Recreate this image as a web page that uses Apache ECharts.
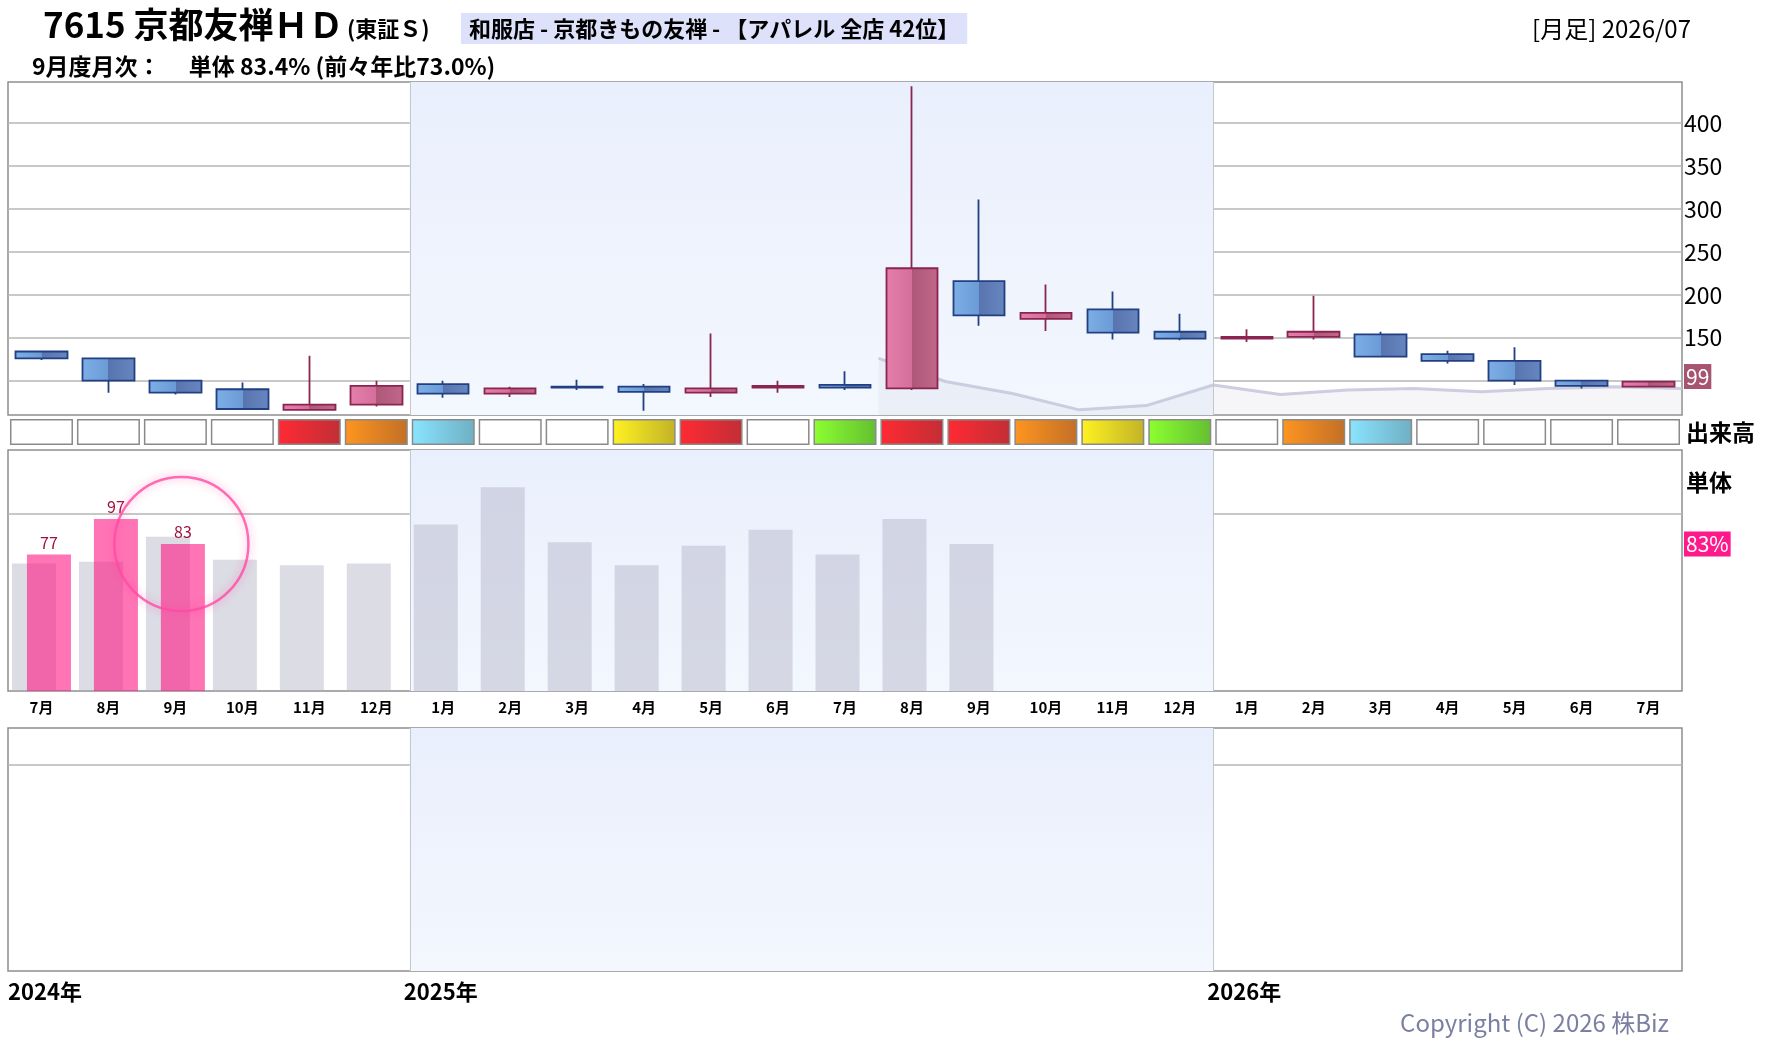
<!DOCTYPE html>
<html lang="ja">
<head>
<meta charset="utf-8">
<title>7615 京都友禅ＨＤ 月足</title>
<script src="https://cdn.jsdelivr.net/npm/echarts@6/dist/echarts.min.js"></script>
<style>
  html, body { margin: 0; padding: 0; background: #fff; }
  #chart { width: 1780px; height: 1054px; }
</style>
</head>
<body>
<div id="chart"></div>
<script>
// 月足チャート（株価・出来高ランク・月次）

// 月（2024/07〜2026/07）
const months = [
  '2024-07', '2024-08', '2024-09', '2024-10', '2024-11', '2024-12',
  '2025-01', '2025-02', '2025-03', '2025-04', '2025-05', '2025-06',
  '2025-07', '2025-08', '2025-09', '2025-10', '2025-11', '2025-12',
  '2026-01', '2026-02', '2026-03', '2026-04', '2026-05', '2026-06', '2026-07'
];
const monthLabels = [
  '7月', '8月', '9月', '10月', '11月', '12月',
  '1月', '2月', '3月', '4月', '5月', '6月', '7月', '8月', '9月', '10月', '11月', '12月',
  '1月', '2月', '3月', '4月', '5月', '6月', '7月'
];
const yearLabels = ['2024年', '2025年', '2026年'];
const yearStarts = [0, 6, 18];

// 株価（始値・終値・安値・高値）
const open  = [134, 126, 100, 90, 66, 72, 96, 85, 93, 93, 86, 92, 95, 91, 216, 172, 183, 157, 149, 151, 154, 131, 123, 100, 93];
const close = [126, 100, 86, 67, 72, 94, 85, 91, 92, 87, 91, 94, 92, 231, 176, 179, 156, 149, 151, 157, 128, 123, 100, 94, 99];
const low   = [124, 86, 84, 66, 65, 70, 80, 81, 89, 65, 81, 86, 89, 89, 164, 158, 148, 147, 145, 148, 128, 120, 95, 91, 93];
const high  = [134, 126, 101, 98, 129, 100, 100, 93, 101, 96, 155, 100, 111, 443, 311, 212, 204, 178, 160, 199, 157, 135, 139, 100, 99];

// 参考ライン（2025/08 月初から）
const trendStart = 13;
const trendValues = [126, 99, 85, 66, 71, 95, 84, 89, 91, 87, 91, 93, 91];

// 出来高ランク  w:なし r:赤 o:橙 b:水色 y:黄 g:緑
const volumeRank = [
  'w', 'w', 'w', 'w', 'r', 'o', 'b', 'w', 'w', 'y', 'r', 'w', 'g',
  'r', 'r', 'o', 'y', 'g', 'w', 'o', 'b', 'w', 'w', 'w', 'w'
];

// 月次 単体（%）
const salesBase = [72, 73, 87, 74, 71, 72, 94, 115, 84, 71, 82, 91, 77, 97, 83];
const salesLatest = [77, 97, 83];

const priceTicks = [100, 150, 200, 250, 300, 350, 400];
const priceLabels = [150, 200, 250, 300, 350, 400];

const FONT = '"Noto Sans CJK JP", "Noto Sans", sans-serif';

const chart = echarts.init(document.getElementById('chart'));

const hGrad = (stops) => new echarts.graphic.LinearGradient(0, 0, 1, 0,
  stops.map((c) => ({ offset: c[0], color: c[1] })));

const upFill = hGrad([[0, '#e47fac'], [0.5, '#d56e9b'], [0.5, '#ae5878'], [1, '#c2678a']]);
const downFill = hGrad([[0, '#7dafe6'], [0.5, '#6b9bd6'], [0.5, '#5874ae'], [1, '#6786bf']]);

const rankColors = {
  w: '#ffffff',
  r: hGrad([[0, '#ff2a33'], [1, '#c22e36']]),
  o: hGrad([[0, '#ff9520'], [1, '#c26f26']]),
  b: hGrad([[0, '#8ae4ff'], [1, '#6fafc3']]),
  y: hGrad([[0, '#fff222'], [1, '#c2b326']]),
  g: hGrad([[0, '#8cff30'], [1, '#64bf30']])
};

function yearShade() {
  return {
    silent: true,
    itemStyle: {
      color: new echarts.graphic.LinearGradient(0, 0, 0, 1, [
        { offset: 0, color: '#e9effc' }, { offset: 1, color: '#f3f7fe' }
      ])
    },
    data: [[{ xAxis: yearStarts[1] }, { xAxis: yearStarts[2] }]]
  };
}

function yearLines() {
  return {
    silent: true,
    symbol: 'none',
    label: { show: false },
    lineStyle: { color: '#c3c7d0', width: 1, type: 'solid' },
    data: yearStarts.slice(1).map((x) => ({ xAxis: x }))
  };
}

function shadeSeries(xIdx, yIdx) {
  return {
    type: 'line', xAxisIndex: xIdx, yAxisIndex: yIdx, z: -1,
    data: [], silent: true,
    markArea: yearShade(),
    markLine: yearLines()
  };
}

// 右端の値タグ
function valueTag(value, text, bg, offsetY) {
  return {
    silent: true, symbol: 'none',
    lineStyle: { color: 'rgba(0,0,0,0)', width: 0 },
    label: {
      show: true, position: 'end', distance: 2, offset: [0, offsetY],
      formatter: text,
      color: '#fff', backgroundColor: bg, fontSize: 21,
      padding: [3, 2, 1, 2], fontFamily: FONT
    },
    data: [{ yAxis: value }]
  };
}

// 年ラベルは境界線より少し左から書き始める
const yearLabelShift = 0.09;

const gridBox = { show: true, borderColor: '#8e8e8e', borderWidth: 1.5, backgroundColor: 'transparent', left: 8, width: 1674 };

const option = {
  animation: false,
  backgroundColor: '#fff',
  textStyle: { fontFamily: FONT },
  grid: [
    Object.assign({ top: 82, height: 333 }, gridBox),
    { left: 8, width: 1674, top: 419, height: 26, show: false },
    Object.assign({ top: 450, height: 241 }, gridBox),
    Object.assign({ top: 728, height: 243 }, gridBox)
  ],
  xAxis: [
    { gridIndex: 0, type: 'category', data: months, show: false },
    { gridIndex: 0, type: 'value', min: 0, max: months.length, show: false, splitLine: { show: false } },
    { gridIndex: 1, type: 'category', data: months, show: false },
    {
      gridIndex: 2, type: 'category', data: months,
      axisLine: { show: false }, axisTick: { show: false },
      axisLabel: {
        interval: 0, margin: 9, fontSize: 15, fontWeight: 'bold', color: '#000', fontFamily: FONT,
        formatter: (v, i) => monthLabels[i]
      }
    },
    { gridIndex: 2, type: 'value', min: 0, max: months.length, show: false, splitLine: { show: false } },
    {
      gridIndex: 3, type: 'value', min: 0, max: months.length,
      axisLine: { show: false }, axisTick: { show: false }, splitLine: { show: false },
      axisLabel: {
        customValues: yearStarts.map((v) => Math.max(0, v - yearLabelShift)),
        align: 'left', margin: 10,
        fontSize: 22, fontWeight: 'bold', color: '#000', fontFamily: FONT,
        formatter: (v) => yearLabels[yearStarts.indexOf(Math.round(v))]
      }
    }
  ],
  yAxis: [
    {
      gridIndex: 0, type: 'value', position: 'right', min: 60, max: 448,
      axisLine: { show: false },
      axisTick: { show: false, customValues: priceTicks },
      axisLabel: { customValues: priceLabels, color: '#000', fontSize: 23, margin: 2, fontFamily: FONT },
      splitLine: { show: true, lineStyle: { color: '#b6b6b6', width: 1.5 } }
    },
    { gridIndex: 1, type: 'value', min: 0, max: 1, show: false },
    {
      gridIndex: 2, type: 'value', position: 'right', min: 0, max: 136,
      axisLine: { show: false }, axisLabel: { show: false },
      axisTick: { show: false, customValues: [100] },
      splitLine: { show: true, lineStyle: { color: '#b6b6b6', width: 1.5 } }
    },
    {
      gridIndex: 3, type: 'value', position: 'right', min: 0, max: 1,
      axisLine: { show: false }, axisLabel: { show: false },
      axisTick: { show: false, customValues: [0.85] },
      splitLine: { show: true, lineStyle: { color: '#b6b6b6', width: 1.5 } }
    }
  ],
  series: [
    shadeSeries(1, 0),
    shadeSeries(4, 2),
    shadeSeries(5, 3),
    {
      type: 'line', xAxisIndex: 1, yAxisIndex: 0, z: 1, silent: true,
      symbol: 'none',
      data: trendValues.map((v, i) => [trendStart + i, v]),
      lineStyle: { color: 'rgba(196,198,218,0.85)', width: 3 },
      areaStyle: { color: 'rgba(190,192,212,0.2)' }
    },
    {
      type: 'candlestick', xAxisIndex: 0, yAxisIndex: 0, z: 3,
      barWidth: 52,
      data: months.map((m, i) => [open[i], close[i], low[i], high[i]]),
      itemStyle: {
        color: upFill, color0: downFill,
        borderColor: '#8a2450', borderColor0: '#223f82', borderWidth: 1.8
      },
      markLine: valueTag(close[close.length - 1], String(close[close.length - 1]), '#a65470', -5)
    },
    {
      type: 'bar', xAxisIndex: 2, yAxisIndex: 1, silent: true,
      barWidth: 63,
      data: volumeRank.map((r) => ({ value: 1, itemStyle: { color: rankColors[r] } })),
      itemStyle: { borderColor: '#8a8a8a', borderWidth: 1.5 }
    },
    {
      type: 'bar', xAxisIndex: 3, yAxisIndex: 2, z: 2, silent: true,
      barWidth: 44, barGap: '-66%',
      data: salesBase,
      itemStyle: { color: 'rgba(178,178,198,0.45)' }
    },
    {
      type: 'bar', xAxisIndex: 3, yAxisIndex: 2, z: 3, silent: true,
      barWidth: 44, barGap: '-66%',
      data: salesLatest,
      itemStyle: { color: 'rgba(255,24,132,0.6)' },
      label: { show: true, position: 'top', distance: 4, color: '#a0123e', fontSize: 16, fontFamily: FONT },
      markLine: valueTag(salesLatest[salesLatest.length - 1], salesLatest[salesLatest.length - 1] + '%', '#ff1a8c', 0)
    },
    {
      type: 'scatter', xAxisIndex: 3, yAxisIndex: 2, z: 5, silent: true,
      symbol: 'circle', symbolSize: 134, symbolOffset: [6, 0],
      data: [[months[salesLatest.length - 1], salesLatest[salesLatest.length - 1]]],
      itemStyle: {
        color: 'rgba(0,0,0,0)', borderColor: '#ff4aa5', borderWidth: 2.5,
        shadowBlur: 8, shadowColor: 'rgba(255,60,150,0.6)'
      }
    }
  ],
  graphic: [
    { type: 'text', x: 43, y: 25, style: { text: '7615 京都友禅ＨＤ', fontSize: 35, fontWeight: 'bold', fontFamily: FONT, fill: '#000', verticalAlign: 'middle' } },
    { type: 'text', x: 347, y: 29, style: { text: '(東証Ｓ)', fontSize: 22, fontWeight: 'bold', fontFamily: FONT, fill: '#000', verticalAlign: 'middle' } },
    { type: 'text', x: 461, y: 13, style: { text: '和服店 - 京都きもの友禅 - 【アパレル 全店 42位】', fontSize: 22, fontWeight: 'bold', fontFamily: FONT, fill: '#000', verticalAlign: 'top', backgroundColor: '#dde2fa', padding: [5, 8, 4, 8] } },
    { type: 'text', x: 1691, y: 29, style: { text: '[月足] 2026/07', fontSize: 24, fontFamily: FONT, fill: '#000', align: 'right', verticalAlign: 'middle' } },
    { type: 'text', x: 32, y: 66, style: { text: '9月度月次：　 単体 83.4% (前々年比73.0%)', fontSize: 23, fontWeight: 'bold', fontFamily: FONT, fill: '#000', verticalAlign: 'middle' } },
    { type: 'text', x: 1686, y: 432, style: { text: '出来高', fontSize: 23, fontWeight: 'bold', fontFamily: FONT, fill: '#000', verticalAlign: 'middle' } },
    { type: 'text', x: 1686, y: 482, style: { text: '単体', fontSize: 23, fontWeight: 'bold', fontFamily: FONT, fill: '#000', verticalAlign: 'middle' } },
    { type: 'text', x: 1669, y: 1023, style: { text: 'Copyright (C) 2026 株Biz', fontSize: 24, fontFamily: FONT, fill: '#7b80a3', align: 'right', verticalAlign: 'middle' } }
  ]
};

chart.setOption(option);
</script>
</body>
</html>
